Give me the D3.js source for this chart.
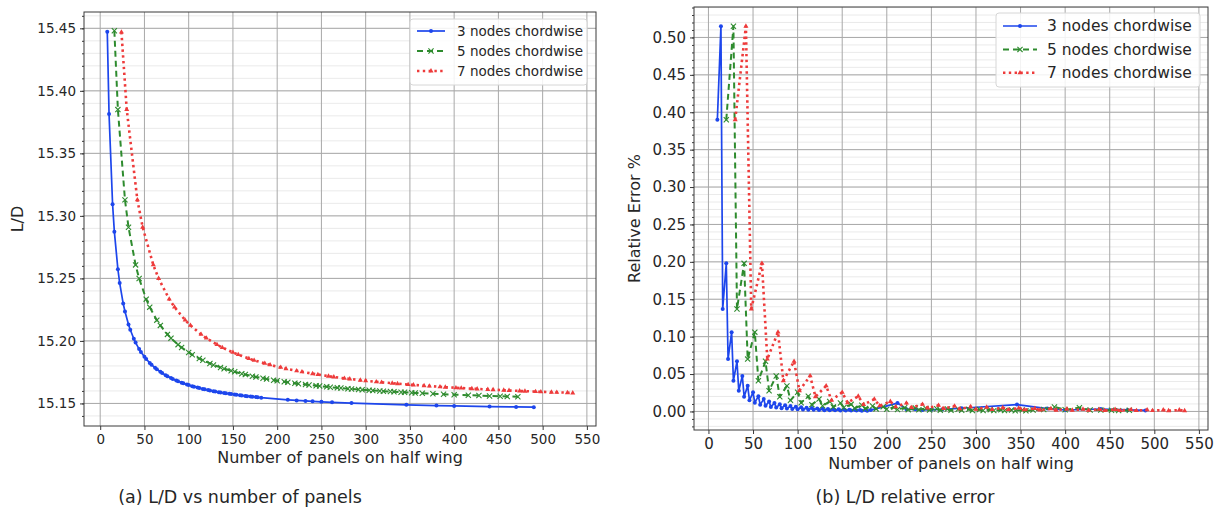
<!DOCTYPE html>
<html>
<head>
<meta charset="utf-8">
<script src="https://cdn.jsdelivr.net/npm/d3@7"></script>
<style>
  body { margin: 0; background: #fff; }
  text { font-family: "DejaVu Sans", sans-serif; fill: #262626; }
</style>
</head>
<body>
<svg id="chart" width="1222" height="520"></svg>
<script>
// ---- data ----
const seriesNames = ['3 nodes chordwise', '5 nodes chordwise', '7 nodes chordwise'];

// (a) L/D vs number of panels
const blueX = [8,10,14,16,20,22,26,28,32,34,38,40,44,46,50,52,56,58,62,64,68,70,74,76,80,82,86,88,92,94,98,100,104,106,110,112,116,118,122,124,128,130,134,136,140,142,146,148,152,154,158,160,164,166,170,172,176,178,182,
  212,222,232,240,250,262,284,346,380,400,440,470,490];
const blueLD = [15.4472,15.3815,15.3093,15.2874,15.2573,15.2464,15.2299,15.2235,15.2131,15.2089,15.2017,15.1987,15.1935,15.1912,15.1873,15.1855,15.1824,15.1810,15.1785,15.1773,15.1753,15.1743,15.1726,15.1718,15.1703,15.1696,15.1683,15.1677,15.1666,15.1661,15.1651,15.1647,15.1638,15.1634,15.1627,15.1623,15.1616,15.1613,15.1607,15.1604,15.1598,15.1595,15.1590,15.1588,15.1583,15.1581,15.1577,15.1575,15.1571,15.1569,15.1565,15.1563,15.1560,15.1558,15.1555,15.1554,15.1551,15.1549,15.1546,
  15.1529,15.1524,15.1520,15.1517,15.1513,15.1509,15.1503,15.1489,15.1483,15.1480,15.1475,15.1472,15.1470];

const greenX = [16,20,28,32,40,44,52,56,64,68,76,80,88,92,100,104,112,116,124,128,136,140,148,152,160,164,172,176,184,188,196,200,208,212,220,224,232,236,244,248,256,260,268,272,280,284,292,296,304,308,316,320,328,332,340,344,352,356,364,
  376,388,400,416,428,440,452,460,472];
const greenLD = [15.4480,15.3850,15.3128,15.2909,15.2608,15.2499,15.2334,15.2270,15.2166,15.2124,15.2052,15.2022,15.1970,15.1947,15.1908,15.1890,15.1859,15.1845,15.1820,15.1808,15.1788,15.1778,15.1761,15.1753,15.1738,15.1731,15.1718,15.1712,15.1701,15.1696,15.1686,15.1682,15.1673,15.1669,15.1662,15.1658,15.1651,15.1648,15.1642,15.1639,15.1633,15.1630,15.1625,15.1623,15.1618,15.1616,15.1612,15.1610,15.1606,15.1604,15.1600,15.1598,15.1595,15.1593,15.1590,15.1589,15.1586,15.1584,15.1581,
  15.1578,15.1574,15.1570,15.1566,15.1563,15.1560,15.1558,15.1556,15.1553];

const redX = [24,30,42,48,60,66,78,84,96,102,114,120,132,138,150,156,168,174,186,192,204,210,222,228,240,246,258,264,276,282,294,300,312,318,330,336,348,354,366,372,384,390,402,408,420,426,438,444,456,462,474,480,492,498,510,516,528,534];
const redLD = [15.4470,15.3850,15.3128,15.2909,15.2608,15.2499,15.2334,15.2270,15.2166,15.2124,15.2052,15.2022,15.1970,15.1947,15.1908,15.1890,15.1859,15.1845,15.1820,15.1808,15.1788,15.1778,15.1761,15.1753,15.1738,15.1731,15.1718,15.1712,15.1701,15.1696,15.1686,15.1682,15.1673,15.1669,15.1662,15.1658,15.1651,15.1648,15.1642,15.1639,15.1633,15.1630,15.1625,15.1623,15.1618,15.1616,15.1612,15.1610,15.1606,15.1604,15.1600,15.1598,15.1595,15.1593,15.1590,15.1589,15.1586,15.1584];

// (b) relative error in %
const blueErrX = [10,14,16,20,22,26,28,32,34,38,40,44,46,50,52,56,58,62,64,68,70,74,76,80,82,86,88,92,94,98,100,104,106,110,112,116,118,122,124,128,130,134,136,140,142,146,148,152,154,158,160,164,166,170,172,176,178,182,
  212,222,232,240,250,262,284,346,380,400,440,470,490];
const blueErr = [0.390,0.515,0.137,0.198,0.070,0.106,0.041,0.067,0.0277,0.0475,0.0197,0.0342,0.0149,0.0256,0.0117,0.0204,0.0091,0.0165,0.0075,0.0133,0.0061,0.0112,0.0052,0.0095,0.0044,0.0082,0.0038,0.0072,0.0034,0.0063,0.0030,0.0056,0.0027,0.0050,0.0024,0.0045,0.0022,0.0040,0.0019,0.0036,0.0017,0.0033,0.0016,0.0030,0.0015,0.0028,0.0013,0.0026,0.0012,0.0024,0.0011,0.0022,0.0011,0.0020,0.0010,0.0019,0.0009,0.0018,
  0.0112,0.0031,0.0028,0.0021,0.0024,0.0027,0.0043,0.0092,0.0038,0.0019,0.0033,0.0021,0.0013];

const greenErrX = [20,28,32,40,44,52,56,64,68,76,80,88,92,100,104,112,116,124,128,136,140,148,152,160,164,172,176,184,188,196,200,208,212,220,224,232,236,244,248,256,260,268,272,280,284,292,296,304,308,316,320,328,332,340,344,352,356,364,
  376,388,400,416,428,440,452,460,472];
const greenErr = [0.390,0.515,0.137,0.198,0.070,0.106,0.041,0.067,0.0277,0.0475,0.0197,0.0342,0.0149,0.0256,0.0117,0.0204,0.0091,0.0165,0.0075,0.0133,0.0061,0.0112,0.0052,0.0095,0.0044,0.0082,0.0038,0.0072,0.0034,0.0063,0.0030,0.0056,0.0027,0.0050,0.0024,0.0045,0.0022,0.0040,0.0019,0.0036,0.0017,0.0033,0.0016,0.0030,0.0015,0.0028,0.0013,0.0026,0.0012,0.0024,0.0011,0.0022,0.0011,0.0020,0.0010,0.0019,0.0009,0.0018,
  0.0025,0.0060,0.0022,0.0050,0.0020,0.0018,0.0017,0.0011,0.0016];

const redErrX = [30,42,48,60,66,78,84,96,102,114,120,132,138,150,156,168,174,186,192,204,210,222,228,240,246,258,264,276,282,294,300,312,318,330,336,348,354,366,372,384,390,402,408,420,426,438,444,456,462,474,480,492,498,510,516,528,534];
const redErr = [0.390,0.515,0.137,0.198,0.070,0.106,0.041,0.067,0.0277,0.0475,0.0197,0.0342,0.0149,0.0256,0.0117,0.0204,0.0091,0.0165,0.0075,0.0133,0.0061,0.0112,0.0052,0.0095,0.0044,0.0082,0.0038,0.0072,0.0034,0.0063,0.0030,0.0056,0.0027,0.0050,0.0024,0.0045,0.0022,0.0040,0.0019,0.0036,0.0017,0.0033,0.0016,0.0030,0.0015,0.0028,0.0013,0.0026,0.0012,0.0024,0.0011,0.0022,0.0011,0.0020,0.0010,0.0019,0.0009];

const xTicks = [0,50,100,150,200,250,300,350,400,450,500,550];
const ldTicks = [15.15,15.20,15.25,15.30,15.35,15.40,15.45];
const errTicks = [0.00,0.05,0.10,0.15,0.20,0.25,0.30,0.35,0.40,0.45,0.50];

// ---- styles ----
const styles = [
  { color: '#1d46ec', width: 1.7, dash: null, marker: 'dot' },
  { color: '#2e8b2e', width: 2, dash: '6,4', marker: 'x' },
  { color: '#ee3b3b', width: 2.6, dash: '2.4,3.4', marker: 'tri' }
];

const svg = d3.select('#chart');

function padded(values) {
  let [a, b] = d3.extent(values);
  let p = (b - a) * 0.05;
  return [a - p, b + p];
}

function drawMarkers(g, pts, st) {
  pts.forEach(([px, py]) => {
    if (st.marker === 'dot') {
      g.append('circle').attr('cx', px).attr('cy', py).attr('r', 2).attr('fill', st.color);
    } else if (st.marker === 'x') {
      let r = 2.6;
      g.append('path')
        .attr('d', `M${px - r},${py - r}L${px + r},${py + r}M${px - r},${py + r}L${px + r},${py - r}`)
        .attr('stroke', st.color).attr('stroke-width', 1.1).attr('fill', 'none');
    } else {
      g.append('path')
        .attr('d', d3.symbol().type(d3.symbolTriangle).size(11)())
        .attr('transform', `translate(${px},${py})`)
        .attr('fill', st.color);
    }
  });
}

function drawPanel(opt) {
  let g = svg.append('g');
  let x = d3.scaleLinear().domain(padded(opt.series.flatMap(s => s.x))).range([opt.left, opt.right]);
  let y = d3.scaleLinear().domain(padded(opt.series.flatMap(s => s.y))).range([opt.bottom, opt.top]);
  let [y0, y1] = y.domain();

  // minor horizontal grid
  let minor = d3.range(Math.ceil(y0 / opt.minorStep) * opt.minorStep, y1, opt.minorStep);
  minor.forEach(v => {
    g.append('line').attr('x1', opt.left).attr('x2', opt.right)
      .attr('y1', y(v)).attr('y2', y(v)).attr('stroke', '#e4e4e4').attr('stroke-width', 0.8);
  });
  // major grid
  opt.yTicks.forEach(v => {
    g.append('line').attr('x1', opt.left).attr('x2', opt.right)
      .attr('y1', y(v)).attr('y2', y(v)).attr('stroke', '#a8a8a8').attr('stroke-width', 1);
  });
  xTicks.forEach(v => {
    g.append('line').attr('y1', opt.top).attr('y2', opt.bottom)
      .attr('x1', x(v)).attr('x2', x(v)).attr('stroke', '#a8a8a8').attr('stroke-width', 1);
  });

  // series
  opt.series.forEach((s, i) => {
    let st = styles[i];
    let pts = s.x.map((v, k) => [x(v), y(s.y[k])]);
    g.append('path')
      .attr('d', d3.line()(pts))
      .attr('fill', 'none')
      .attr('stroke', st.color)
      .attr('stroke-width', st.width)
      .attr('stroke-dasharray', st.dash)
      .attr('stroke-linejoin', 'round');
    drawMarkers(g, pts, st);
  });

  // frame
  g.append('rect').attr('x', opt.left).attr('y', opt.top)
    .attr('width', opt.right - opt.left).attr('height', opt.bottom - opt.top)
    .attr('fill', 'none').attr('stroke', '#3a3a3a').attr('stroke-width', 1);

  // axes
  let ax = g.append('g').attr('transform', `translate(0,${opt.bottom})`)
    .call(d3.axisBottom(x).tickValues(xTicks).tickSize(4).tickPadding(4).tickFormat(d3.format('d')));
  let ay = g.append('g').attr('transform', `translate(${opt.left},0)`)
    .call(d3.axisLeft(y).tickValues(opt.yTicks).tickSize(4).tickPadding(4).tickFormat(d3.format('.2f')));
  g.append('g').attr('transform', `translate(${opt.left},0)`)
    .call(d3.axisLeft(y).tickValues(minor).tickSize(2).tickFormat(''));
  g.selectAll('.domain').remove();
  g.selectAll('.tick line').attr('stroke', '#3a3a3a');
  [ax, ay].forEach(a => a.selectAll('text').attr('font-size', opt.tickFont).attr('font-family', 'DejaVu Sans').attr('fill', '#262626'));

  // axis labels
  g.append('text').attr('x', (opt.left + opt.right) / 2).attr('y', opt.xLabelY)
    .attr('text-anchor', 'middle').attr('font-size', opt.labelFont).text('Number of panels on half wing');
  g.append('text').attr('transform', `translate(${opt.yLabelX},${(opt.top + opt.bottom) / 2}) rotate(-90)`)
    .attr('text-anchor', 'middle').attr('font-size', opt.labelFont).text(opt.yLabel);

  // legend
  let L = opt.legend;
  g.append('rect').attr('x', L.x).attr('y', L.y).attr('width', L.w).attr('height', L.h)
    .attr('rx', 3).attr('fill', '#fff').attr('fill-opacity', 0.85)
    .attr('stroke', '#d6d6d6').attr('stroke-width', 1);
  seriesNames.forEach((name, i) => {
    let st = styles[i];
    let ly = L.y + L.row0 + i * L.rowStep;
    g.append('line').attr('x1', L.x + 7).attr('x2', L.x + 7 + L.sample)
      .attr('y1', ly).attr('y2', ly).attr('stroke', st.color).attr('stroke-width', st.width)
      .attr('stroke-dasharray', st.dash);
    drawMarkers(g, [[L.x + 7 + L.sample / 2, ly]], st);
    g.append('text').attr('x', L.x + L.textX).attr('y', ly).attr('dy', '0.35em')
      .attr('font-size', L.font).text(name);
  });
}

drawPanel({
  left: 84, right: 596, top: 12, bottom: 426,
  series: [{ x: blueX, y: blueLD }, { x: greenX, y: greenLD }, { x: redX, y: redLD }],
  yTicks: ldTicks, minorStep: 0.01, tickFont: 13.5, labelFont: 16,
  xLabelY: 463, yLabelX: 23, yLabel: 'L/D',
  legend: { x: 410, y: 19, w: 177, h: 66, row0: 12, rowStep: 20, sample: 28, textX: 47, font: 13.5 }
});

drawPanel({
  left: 694, right: 1208, top: 7, bottom: 430,
  series: [{ x: blueErrX, y: blueErr }, { x: greenErrX, y: greenErr }, { x: redErrX, y: redErr }],
  yTicks: errTicks, minorStep: 0.01, tickFont: 15, labelFont: 16,
  xLabelY: 469, yLabelX: 640, yLabel: 'Relative Error %',
  legend: { x: 996, y: 13, w: 204, h: 74, row0: 13, rowStep: 23.4, sample: 34, textX: 51, font: 15.5 }
});

// captions
svg.append('text').attr('x', 240).attr('y', 503).attr('text-anchor', 'middle')
  .attr('font-family', 'Liberation Sans, Arial, sans-serif').attr('font-size', 17.5).attr('fill', '#000')
  .text('(a) L/D vs number of panels');
svg.append('text').attr('x', 905).attr('y', 503).attr('text-anchor', 'middle')
  .attr('font-family', 'Liberation Sans, Arial, sans-serif').attr('font-size', 17.5).attr('fill', '#000')
  .text('(b) L/D relative error');
</script>
</body>
</html>
